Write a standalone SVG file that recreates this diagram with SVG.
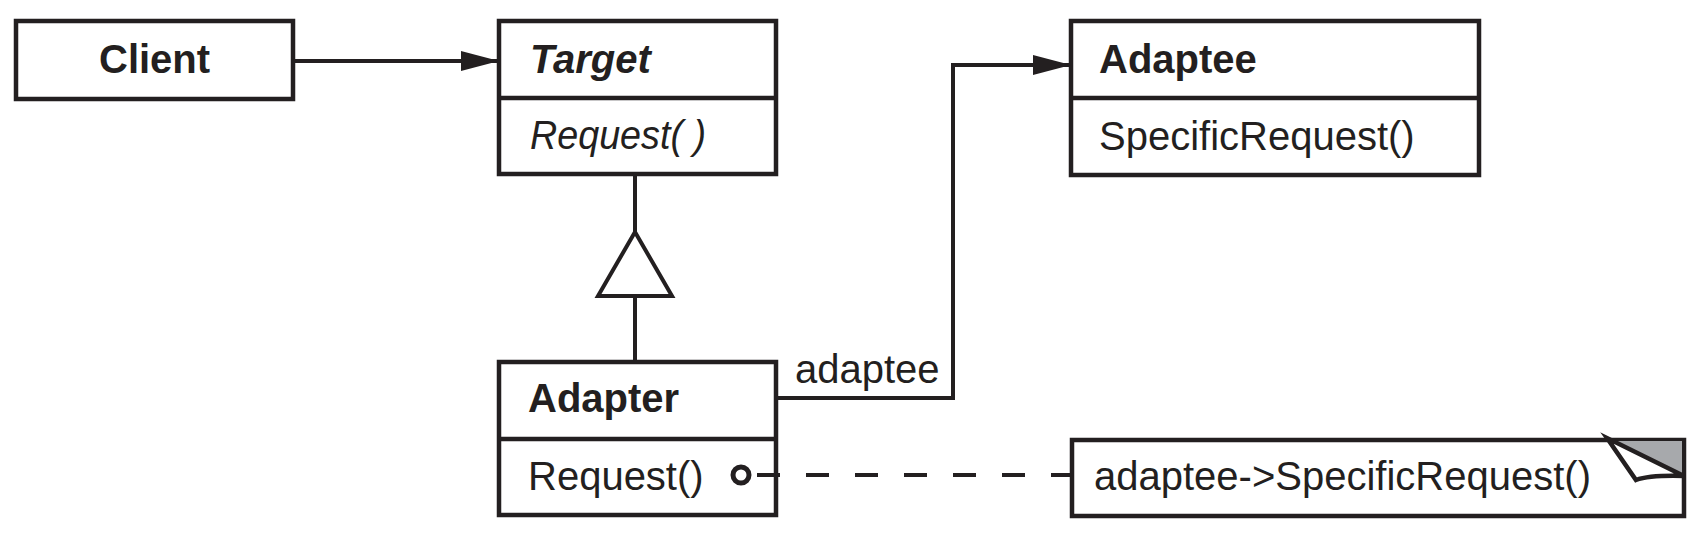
<svg xmlns="http://www.w3.org/2000/svg" width="1702" height="541" viewBox="0 0 1702 541">
<style>
.box{fill:#fff;stroke:#231f20;stroke-width:4.5}
.div{stroke:#231f20;stroke-width:4.5}
.ln{fill:none;stroke:#231f20;stroke-width:4}
.t{font-family:"Liberation Sans",Arial,sans-serif;font-size:40px;fill:#231f20}
.b{font-weight:bold}
.i{font-style:italic}
</style>
<defs>
<marker id="arr" viewBox="0 0 38 20" refX="38" refY="10" markerWidth="38" markerHeight="20" markerUnits="userSpaceOnUse" orient="auto">
<path d="M0,0 L38,10 L0,20 Z" fill="#231f20"/>
</marker>
</defs>
<g id="client">
<rect class="box" x="16" y="21" width="277" height="78"/>
<text class="t b" x="99" y="73">Client</text>
</g>
<g id="target">
<rect class="box" x="499" y="21" width="277" height="153"/>
<line class="div" x1="499" y1="98" x2="776" y2="98"/>
<text class="t b i" x="530" y="73">Target</text>
<text class="t i" x="530" y="149" textLength="176" lengthAdjust="spacingAndGlyphs">Request( )</text>
</g>
<g id="adaptee">
<rect class="box" x="1071" y="21" width="408" height="154"/>
<line class="div" x1="1071" y1="98" x2="1479" y2="98"/>
<text class="t b" x="1099" y="73">Adaptee</text>
<text class="t" x="1099" y="150">SpecificRequest()</text>
</g>
<g id="adapter">
<rect class="box" x="499" y="362" width="277" height="153"/>
<line class="div" x1="499" y1="439" x2="776" y2="439"/>
<text class="t b" x="528" y="412">Adapter</text>
<text class="t" x="528" y="490">Request()</text>
</g>
<g id="note">
<path d="M1607,440 L1072,440 L1072,516 L1684,516 L1684,440 Z" class="box"/>
<polygon points="1611,441 1682,441 1682,473" fill="#a7a9ac"/>
<path d="M1607,438 L1636,480 Q1650,475 1684,476 Z" fill="#fff" stroke="#231f20" stroke-width="4.5" stroke-linejoin="miter"/>
<text class="t" x="1094" y="490" font-size="40.8">adaptee-&gt;SpecificRequest()</text>
</g>
<g id="connectors">
<line class="ln" x1="293" y1="61" x2="499" y2="61" marker-end="url(#arr)"/>
<polyline class="ln" points="776,398 953,398 953,65 1071,65" marker-end="url(#arr)"/>
<line class="ln" x1="635" y1="175" x2="635" y2="232"/>
<polygon points="635,232 672,296 598,296" fill="#fff" stroke="#231f20" stroke-width="4"/>
<line class="ln" x1="635" y1="296" x2="635" y2="361"/>
<text class="t" x="795" y="383">adaptee</text>
<line class="ln" x1="757" y1="475" x2="1072" y2="475" stroke-dasharray="23 26" stroke-width="4.5"/>
<circle cx="741" cy="475" r="8" fill="#fff" stroke="#231f20" stroke-width="5"/>
</g>
</svg>
